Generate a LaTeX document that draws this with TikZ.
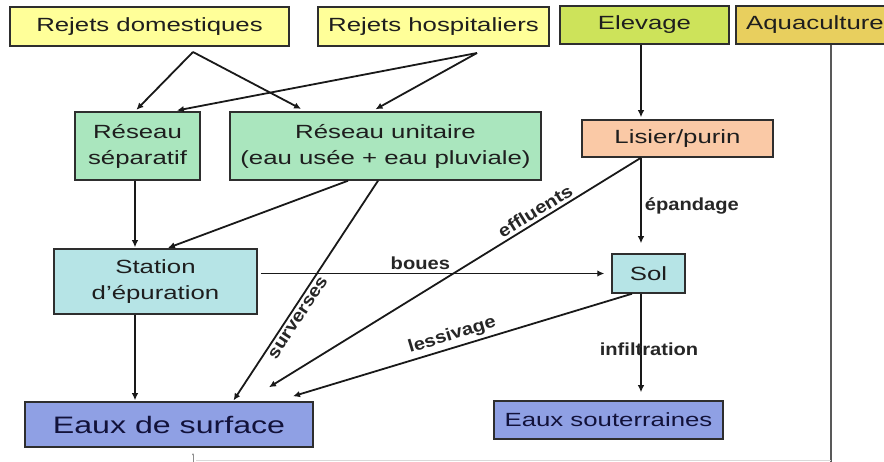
\documentclass[tikz,border=0pt]{standalone}
\usepackage{fontspec}
\setmainfont{Liberation Sans}
\newfontfamily\bxfont[FakeStretch=1.35]{Liberation Sans}
\newfontfamily\lbfont[FakeStretch=1.15]{Liberation Sans}
\usetikzlibrary{arrows.meta,calc}
\definecolor{cyel}{HTML}{FFFF99}
\definecolor{celev}{HTML}{CDE35A}
\definecolor{caqua}{HTML}{E8CF5E}
\definecolor{cgreen}{HTML}{AAE6BE}
\definecolor{cpeach}{HTML}{FAC9A6}
\definecolor{ccyan}{HTML}{B6E4E6}
\definecolor{cblue}{HTML}{8FA0E4}
\definecolor{bordc}{HTML}{2E2E2E}
\definecolor{txtc}{HTML}{1E1E1E}
\definecolor{txtb}{HTML}{12123A}
\begin{document}
\begin{tikzpicture}[x=1pt,y=-1pt,
  box/.style={draw=bordc, line width=1.5pt, inner sep=0pt, align=center, text=txtc,
    font=\bxfont\fontsize{19.1}{26}\selectfont},
  arr/.style={draw=black!90, line width=1.8pt, -{Latex[length=7pt,width=6.5pt]}},
  lbl/.style={font=\lbfont\bfseries\fontsize{17.5}{20}\selectfont, text=black!85, inner sep=3pt}]
\useasboundingbox (0,0) rectangle (884,462);
\clip (0,0) rectangle (884,462);
\fill[white] (0,0) rectangle (884,462);

% boxes
\node[box, fill=cyel, minimum width=279pt, minimum height=39pt] (rd) at (149.5,26.5) {Rejets domestiques};
\node[box, fill=cyel, minimum width=231pt, minimum height=39pt] (rh) at (433.5,26.5) {Rejets hospitaliers};
\node[box, fill=celev, minimum width=169pt, minimum height=38pt] (el) at (644.5,25) {Elevage};
\node[box, fill=caqua, minimum width=158pt, minimum height=38pt] (aq) at (815,25) {Aquaculture};
\node[box, fill=cgreen, minimum width=125pt, minimum height=68pt] (rs) at (137.5,146) {Réseau\\séparatif};
\node[box, fill=cgreen, minimum width=311pt, minimum height=68pt] (ru) at (385.5,146) {Réseau unitaire\\(eau usée + eau pluviale)};
\node[box, fill=cpeach, minimum width=191pt, minimum height=37pt] (li) at (677.5,138.5) {Lisier/purin};
\node[box, fill=ccyan, minimum width=203pt, minimum height=65pt] (st) at (155.5,281.5) {Station\\d’épuration};
\node[box, fill=ccyan, minimum width=73pt, minimum height=39pt] (sol) at (648.5,273.5) {Sol};
\node[box, fill=cblue, text=txtb, minimum width=288pt, minimum height=45pt,
  font=\bxfont\fontsize{23.8}{28}\selectfont] (es) at (169,424.5) {Eaux de surface};
\node[box, fill=cblue, text=txtb, minimum width=229pt, minimum height=38pt] (eso) at (608.5,420) {Eaux souterraines};

% free ends
\coordinate (rdo) at (193,52);
\coordinate (rho) at (477,53);
\coordinate (aqend) at (831,462);
\coordinate (bl) at (196,460);
\coordinate (br) at (831,460);
\coordinate (tb) at (193,462);
\coordinate (tt) at (193,453);

% connectors
\draw[arr, shorten >=2pt] (rdo) -- ([xshift=-2.5pt]rs.north);
\draw[arr, shorten >=5pt] (rdo) -- ([xshift=-80pt]ru.north);
\draw[arr, shorten >=4pt] (rho) -- ([xshift=35.5pt]rs.north);
\draw[arr, shorten >=4pt] (rho) -- ([xshift=-13.5pt]ru.north);
\draw[arr, shorten >=1pt] ([xshift=-2.5pt]rs.south) -- ([xshift=-20.5pt]st.north);
\draw[arr, shorten >=1pt] ([xshift=-37.5pt]ru.south) -- ([xshift=11.5pt]st.north);
\draw[arr, shorten >=1pt] ([xshift=-7.5pt]ru.south) -- node[lbl, sloped, below, pos=0.6]{surverses} ([xshift=64pt]es.north);
\draw[arr, shorten >=1pt] ([xshift=-20.5pt]st.south) -- ([xshift=-34pt]es.north);
\draw[arr, shorten <=3pt, shorten >=7pt] (st.east |- sol.west) -- node[lbl, above, pos=0.46]{boues} (sol.west);
\draw[arr] ([xshift=-36.5pt]li.south) -- node[lbl, sloped, above, pos=0.27]{effluents} ([xshift=100pt,yshift=14pt]es.north);
\draw[arr, shorten >=10pt] ([xshift=-36.5pt]li.south) -- node[lbl, right, pos=0.5]{épandage} ([xshift=-7.5pt]sol.north);
\draw[arr] ([xshift=-16.5pt]sol.south) -- node[lbl, sloped, above, pos=0.52]{lessivage} ([xshift=124pt,yshift=5pt]es.north);
\draw[arr, shorten >=8pt] ([xshift=-7.5pt]sol.south) -- node[lbl, pos=0.52, xshift=8pt]{infiltration} ([xshift=32.5pt]eso.north);
\draw[arr, shorten >=2pt] ([xshift=-3.5pt]el.south) -- ([xshift=-36.5pt]li.north);
\draw[line width=1.8pt, draw=black!65] ([xshift=16pt]aq.south) -- (aqend);

% faint bottom edge
\draw[line width=0.6pt, draw=black!15] (bl) -- (br);
\draw[line width=0.5pt, draw=black!45, -{Latex[length=2pt,width=2pt]}] (tb) -- (tt);
\end{tikzpicture}
\end{document}
